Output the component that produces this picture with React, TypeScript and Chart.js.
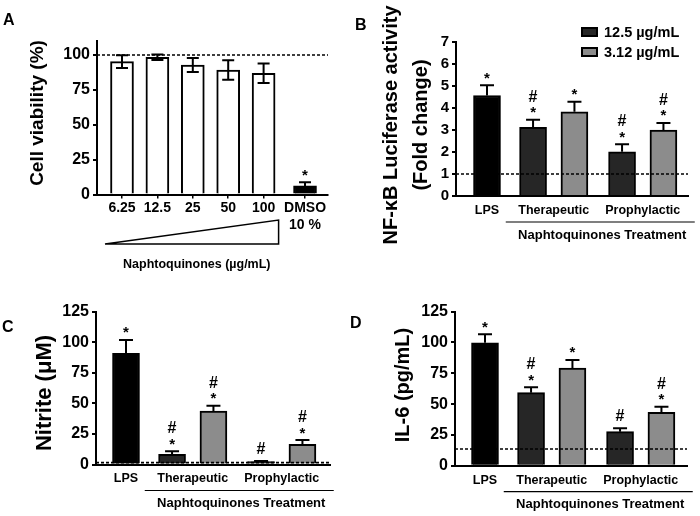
import React, { useEffect, useRef } from 'react';
import { Chart, registerables } from 'chart.js';

Chart.register(...registerables);

const FONT = '"Liberation Sans", Arial, Helvetica, sans-serif';
const INK = '#000000';
const DARK = '#262626';
const LIGHT = '#8c8c8c';
const WHITE = '#ffffff';

// ---------- Panel A: cell viability ----------
const doseLabels = ['6.25', '12.5', '25', '50', '100'];
const controlLabel = ['DMSO', '10 %'];
const viabilityMeans = [95.2, 98.3, 92.8, 89.2, 86.9, 6.2];
const viabilityErrors = [4.5, 2, 5, 7, 7, 2.5];
const viabilityMarks = ['', '', '', '', '', '*'];
const viabilityTicks = [0, 25, 50, 75, 100];
const viabilityReference = 100;
const viabilityAxisMax = 110;

// ---------- Shared groups ----------
const treatmentGroups = ['LPS', 'Therapeutic', 'Prophylactic'];
const concentrationNames = ['12.5 µg/mL', '3.12 µg/mL'];

// ---------- Panel B: NF-kB ----------
const nfkbLps = 4.57;
const nfkbLpsError = 0.46;
const nfkbLpsMark = '*';
const nfkbHigh = [3.12, 2.01];
const nfkbHighErrors = [0.35, 0.34];
const nfkbHighMarks = ['#*', '#*'];
const nfkbLow = [3.83, 3.0];
const nfkbLowErrors = [0.45, 0.32];
const nfkbLowMarks = ['*', '#*'];
const nfkbTicks = [0, 1, 2, 3, 4, 5, 6, 7];
const nfkbReference = 1;

// ---------- Panel C: nitrite ----------
const nitriteLps = 90.8;
const nitriteLpsError = 11;
const nitriteLpsMark = '*';
const nitriteHigh = [8.3, 2.3];
const nitriteHighErrors = [2.5, 0.6];
const nitriteHighMarks = ['#*', '#'];
const nitriteLow = [43.7, 16.5];
const nitriteLowErrors = [4.3, 3.5];
const nitriteLowMarks = ['#*', '#*'];
const nitriteTicks = [0, 25, 50, 75, 100, 125];
const nitriteReference = 1.5;

// ---------- Panel D: IL-6 ----------
const il6Lps = 99.8;
const il6LpsError = 6.8;
const il6LpsMark = '*';
const il6High = [59.3, 27.6];
const il6HighErrors = [4.3, 2.8];
const il6HighMarks = ['#*', '#'];
const il6Low = [79.3, 43.3];
const il6LowErrors = [6.5, 4.5];
const il6LowMarks = ['*', '#*'];
const il6Ticks = [0, 25, 50, 75, 100, 125];
const il6Reference = 13.5;

// ---------- layout constants ----------
const GROUP_X = [1, 2.5, 4.5];
const PAIR_OFFSET = 0.465;
const CONTROL_GAP = 1.17;

type Box = { x: number; y: number; w: number; h: number };
type Area = { left: number; top: number; right: number; bottom: number };

type Decor = {
  box: Box;
  errorsOnTop: boolean;
  cap: number;
  reference: number;
  letter: string;
  letterAt: [number, number];
  title: string[];
  titleXs: number[];
  titleY: number;
  titleSize: number;
  group?: { text: string };
  triangle?: { text: string };
  legend?: { x: number; y: number; indices: number[] };
};

function drawErrors(chart: any, cap: number, both: boolean) {
  const ctx = chart.ctx;
  const ys = chart.scales.y;
  ctx.save();
  ctx.strokeStyle = INK;
  ctx.lineWidth = 2;
  chart.data.datasets.forEach((ds: any, i: number) => {
    const meta = chart.getDatasetMeta(i);
    meta.data.forEach((el: any, j: number) => {
      const v = ds.data[j].y;
      const e = ds.errors[j];
      const top = ys.getPixelForValue(v + e);
      const bottom = both ? ys.getPixelForValue(v - e) : el.y;
      ctx.beginPath();
      ctx.moveTo(el.x, bottom);
      ctx.lineTo(el.x, top);
      ctx.moveTo(el.x - cap, top);
      ctx.lineTo(el.x + cap, top);
      if (both) {
        ctx.moveTo(el.x - cap, bottom);
        ctx.lineTo(el.x + cap, bottom);
      }
      ctx.stroke();
    });
  });
  ctx.restore();
}

function drawMarks(chart: any) {
  const ctx = chart.ctx;
  const ys = chart.scales.y;
  ctx.save();
  ctx.fillStyle = INK;
  ctx.textAlign = 'center';
  ctx.textBaseline = 'alphabetic';
  chart.data.datasets.forEach((ds: any, i: number) => {
    const meta = chart.getDatasetMeta(i);
    meta.data.forEach((el: any, j: number) => {
      const mark: string = ds.marks[j] || '';
      if (!mark) return;
      const top = ys.getPixelForValue(ds.data[j].y + ds.errors[j]);
      const star = mark.includes('*');
      if (star) {
        ctx.font = `bold 15px ${FONT}`;
        ctx.fillText('*', el.x, top - 2.5);
      }
      if (mark.includes('#')) {
        ctx.font = `bold 16px ${FONT}`;
        ctx.fillText('#', el.x, star ? top - 18 : top - 7);
      }
    });
  });
  ctx.restore();
}

function decorPlugin(d: Decor) {
  const ox = d.box.x;
  const oy = d.box.y;
  return {
    id: 'decor',
    beforeDatasetsDraw(chart: any) {
      if (!d.errorsOnTop) drawErrors(chart, d.cap, false);
    },
    afterDatasetsDraw(chart: any) {
      const { ctx, chartArea, scales } = chart;
      if (d.errorsOnTop) drawErrors(chart, d.cap, true);
      const yRef = scales.y.getPixelForValue(d.reference);
      ctx.save();
      ctx.setLineDash([3, 2]);
      ctx.lineWidth = 1.6;
      ctx.strokeStyle = INK;
      ctx.beginPath();
      ctx.moveTo(chartArea.left, yRef);
      ctx.lineTo(chartArea.right, yRef);
      ctx.stroke();
      ctx.restore();
      drawMarks(chart);
    },
    afterDraw(chart: any) {
      const { ctx, chartArea, scales } = chart;
      const xs = scales.x;
      ctx.save();
      ctx.fillStyle = INK;
      ctx.strokeStyle = INK;
      // panel letter
      ctx.font = `bold 16px ${FONT}`;
      ctx.textAlign = 'left';
      ctx.textBaseline = 'alphabetic';
      ctx.fillText(d.letter, d.letterAt[0] - ox, d.letterAt[1] - oy);
      // y title
      ctx.font = `bold ${d.titleSize}px ${FONT}`;
      ctx.textAlign = 'center';
      ctx.textBaseline = 'middle';
      d.title.forEach((line, i) => {
        ctx.save();
        ctx.translate(d.titleXs[i] - ox, d.titleY - oy);
        ctx.rotate(-Math.PI / 2);
        ctx.fillText(line, 0, 0);
        ctx.restore();
      });
      // group underline
      if (d.group) {
        const l = xs.getPixelForValue(GROUP_X[1]) - 48;
        const r = xs.getPixelForValue(GROUP_X[2]) + 52;
        const y = chartArea.bottom + 26;
        ctx.lineWidth = 1.2;
        ctx.beginPath();
        ctx.moveTo(l, y);
        ctx.lineTo(r, y);
        ctx.stroke();
        ctx.font = `bold 13px ${FONT}`;
        ctx.fillText(d.group.text, (l + r) / 2 + 2, y + 13);
      }
      // dose triangle
      if (d.triangle) {
        const l = xs.getPixelForValue(1) - 17;
        const r = xs.getPixelForValue(doseLabels.length) + 15;
        const bottom = 244 - oy;
        const top = 220 - oy;
        ctx.lineWidth = 1.5;
        ctx.beginPath();
        ctx.moveTo(l, bottom);
        ctx.lineTo(r, bottom);
        ctx.lineTo(r, top);
        ctx.closePath();
        ctx.stroke();
        ctx.font = `bold 12.5px ${FONT}`;
        ctx.fillText(d.triangle.text, (l + r) / 2 + 5, 265 - oy);
      }
      // legend
      if (d.legend) {
        const lg = d.legend;
        ctx.font = `bold 14.5px ${FONT}`;
        ctx.textAlign = 'left';
        lg.indices.forEach((di, k) => {
          const ds = chart.data.datasets[di];
          const x = lg.x - ox;
          const y = lg.y - oy + k * 20;
          ctx.fillStyle = ds.backgroundColor;
          ctx.fillRect(x, y, 17, 10);
          ctx.lineWidth = 2;
          ctx.strokeStyle = INK;
          ctx.strokeRect(x + 1, y + 1, 15, 8);
          ctx.fillStyle = INK;
          ctx.fillText(ds.label, x + 23, y + 5.5);
        });
      }
      ctx.restore();
    },
  };
}

function yAxis(box: Box, area: Area, max: number, ticks: number[], size: number) {
  return {
    type: 'linear',
    min: 0,
    max,
    afterBuildTicks: (s: any) => {
      s.ticks = ticks.map((v) => ({ value: v }));
    },
    afterFit: (s: any) => {
      s.width = area.left - box.x;
    },
    grid: { display: true, drawOnChartArea: false, drawTicks: true, tickLength: 4, lineWidth: 2, color: INK },
    border: { display: true, color: INK, width: 2 },
    ticks: { color: INK, padding: 3, font: { family: FONT, size, weight: 'bold' } },
  };
}

function baseOptions(box: Box, area: Area) {
  return {
    responsive: false,
    animation: false,
    devicePixelRatio: 1,
    layout: { padding: { left: 0, top: area.top - box.y, right: box.x + box.w - area.right, bottom: 0 } },
    plugins: { legend: { display: false }, tooltip: { enabled: false } },
  };
}

// ---------- Panel A config ----------
const BOX_A: Box = { x: 0, y: 0, w: 350, h: 275 };
const AREA_A: Area = { left: 97, top: 41, right: 328, bottom: 194.5 };

function viabilityConfig() {
  const box = BOX_A;
  const area = AREA_A;
  const positions = [...doseLabels.map((_, i) => i + 1), doseLabels.length + CONTROL_GAP];
  const labels: (string | string[])[] = [...doseLabels, controlLabel];
  const unit = 35.4;
  const anchor = 122;
  const xMin = 1 - (anchor - area.left) / unit;
  const xMax = 1 + (area.right - anchor) / unit;
  return {
    type: 'bar',
    data: {
      datasets: [
        {
          label: 'Cell viability (%)',
          data: positions.map((x, i) => ({ x, y: viabilityMeans[i] })),
          backgroundColor: positions.map((_, i) => (i < doseLabels.length ? WHITE : INK)),
          borderColor: INK,
          borderWidth: 2,
          borderSkipped: 'start',
          grouped: false,
          barThickness: 23,
          errors: viabilityErrors,
          marks: viabilityMarks,
        },
      ],
    },
    options: {
      ...baseOptions(box, area),
      scales: {
        x: {
          type: 'linear',
          min: xMin,
          max: xMax,
          offset: false,
          afterBuildTicks: (s: any) => {
            s.ticks = positions.map((v) => ({ value: v }));
          },
          afterFit: (s: any) => {
            s.height = box.y + box.h - area.bottom;
          },
          grid: { display: true, offset: false, drawOnChartArea: false, drawTicks: true, tickLength: 4, lineWidth: 1.5, color: INK },
          border: { display: true, color: INK, width: 2 },
          ticks: {
            color: INK,
            padding: 1,
            autoSkip: false,
            maxRotation: 0,
            font: { family: FONT, size: 14, weight: 'bold' },
            callback: (_v: any, i: number) => labels[i],
          },
        },
        y: yAxis(box, area, viabilityAxisMax, viabilityTicks, 16),
      },
    },
    plugins: [
      decorPlugin({
        box,
        errorsOnTop: true,
        cap: 6,
        reference: viabilityReference,
        letter: 'A',
        letterAt: [3, 25],
        title: ['Cell viability (%)'],
        titleXs: [38],
        titleY: 113,
        titleSize: 19,
        triangle: { text: 'Naphtoquinones (µg/mL)' },
      }),
    ],
  };
}

// ---------- Treatment panels ----------
type TreatmentSpec = {
  box: Box;
  area: Area;
  anchor: number;
  unit: number;
  yMax: number;
  yTicks: number[];
  tickSize: number;
  lps: number;
  lpsErr: number;
  lpsMark: string;
  high: number[];
  highErr: number[];
  highMarks: string[];
  low: number[];
  lowErr: number[];
  lowMarks: string[];
  reference: number;
  letter: string;
  letterAt: [number, number];
  title: string[];
  titleXs: number[];
  titleY: number;
  titleSize: number;
  legend?: { x: number; y: number; indices: number[] };
};

function treatmentConfig(s: TreatmentSpec) {
  const { box, area } = s;
  const xMin = GROUP_X[0] - (s.anchor - area.left) / s.unit;
  const xMax = GROUP_X[0] + (area.right - s.anchor) / s.unit;
  const common = { borderColor: INK, borderWidth: 2, borderSkipped: 'start', grouped: false, barThickness: 27 };
  const datasets = [
    {
      ...common,
      label: treatmentGroups[0],
      backgroundColor: INK,
      data: [{ x: GROUP_X[0], y: s.lps }],
      errors: [s.lpsErr],
      marks: [s.lpsMark],
    },
    {
      ...common,
      label: concentrationNames[0],
      backgroundColor: DARK,
      data: s.high.map((y, i) => ({ x: GROUP_X[i + 1] - PAIR_OFFSET, y })),
      errors: s.highErr,
      marks: s.highMarks,
    },
    {
      ...common,
      label: concentrationNames[1],
      backgroundColor: LIGHT,
      data: s.low.map((y, i) => ({ x: GROUP_X[i + 1] + PAIR_OFFSET, y })),
      errors: s.lowErr,
      marks: s.lowMarks,
    },
  ];
  return {
    type: 'bar',
    data: { datasets },
    options: {
      ...baseOptions(box, area),
      scales: {
        x: {
          type: 'linear',
          min: xMin,
          max: xMax,
          offset: false,
          afterBuildTicks: (sc: any) => {
            sc.ticks = GROUP_X.map((v) => ({ value: v }));
          },
          afterFit: (sc: any) => {
            sc.height = box.y + box.h - area.bottom;
          },
          grid: { display: false, offset: false, drawTicks: false },
          border: { display: true, color: INK, width: 2 },
          ticks: {
            color: INK,
            padding: 7,
            autoSkip: false,
            maxRotation: 0,
            font: { family: FONT, size: 12.5, weight: 'bold' },
            callback: (_v: any, i: number) => treatmentGroups[i],
          },
        },
        y: yAxis(box, area, s.yMax, s.yTicks, s.tickSize),
      },
    },
    plugins: [
      decorPlugin({
        box,
        errorsOnTop: false,
        cap: 7,
        reference: s.reference,
        letter: s.letter,
        letterAt: s.letterAt,
        title: s.title,
        titleXs: s.titleXs,
        titleY: s.titleY,
        titleSize: s.titleSize,
        group: { text: 'Naphtoquinones Treatment' },
        legend: s.legend,
      }),
    ],
  };
}

const BOX_B: Box = { x: 350, y: 0, w: 350, h: 270 };
const BOX_C: Box = { x: 0, y: 275, w: 350, h: 241 };
const BOX_D: Box = { x: 350, y: 275, w: 350, h: 241 };

const nfkbConfig = () =>
  treatmentConfig({
    box: BOX_B,
    area: { left: 456, top: 42, right: 688, bottom: 196 },
    anchor: 487,
    unit: 44.5,
    yMax: 7,
    yTicks: nfkbTicks,
    tickSize: 15,
    lps: nfkbLps,
    lpsErr: nfkbLpsError,
    lpsMark: nfkbLpsMark,
    high: nfkbHigh,
    highErr: nfkbHighErrors,
    highMarks: nfkbHighMarks,
    low: nfkbLow,
    lowErr: nfkbLowErrors,
    lowMarks: nfkbLowMarks,
    reference: nfkbReference,
    letter: 'B',
    letterAt: [355, 30],
    title: ['NF-κB Luciferase activity', '(Fold change)'],
    titleXs: [391, 421],
    titleY: 125,
    titleSize: 20,
    legend: { x: 581, y: 27, indices: [1, 2] },
  });

const nitriteConfig = () =>
  treatmentConfig({
    box: BOX_C,
    area: { left: 96, top: 311.5, right: 330, bottom: 464.5 },
    anchor: 126,
    unit: 44.5,
    yMax: 125,
    yTicks: nitriteTicks,
    tickSize: 16,
    lps: nitriteLps,
    lpsErr: nitriteLpsError,
    lpsMark: nitriteLpsMark,
    high: nitriteHigh,
    highErr: nitriteHighErrors,
    highMarks: nitriteHighMarks,
    low: nitriteLow,
    lowErr: nitriteLowErrors,
    lowMarks: nitriteLowMarks,
    reference: nitriteReference,
    letter: 'C',
    letterAt: [2, 332],
    title: ['Nitrite (μM)'],
    titleXs: [45],
    titleY: 393,
    titleSize: 22,
  });

const il6Config = () =>
  treatmentConfig({
    box: BOX_D,
    area: { left: 455, top: 311.7, right: 687, bottom: 465.7 },
    anchor: 485,
    unit: 44.5,
    yMax: 125,
    yTicks: il6Ticks,
    tickSize: 16,
    lps: il6Lps,
    lpsErr: il6LpsError,
    lpsMark: il6LpsMark,
    high: il6High,
    highErr: il6HighErrors,
    highMarks: il6HighMarks,
    low: il6Low,
    lowErr: il6LowErrors,
    lowMarks: il6LowMarks,
    reference: il6Reference,
    letter: 'D',
    letterAt: [350, 328],
    title: ['IL-6 (pg/mL)'],
    titleXs: [403],
    titleY: 385,
    titleSize: 20,
  });

function ChartCanvas({ box, build }: { box: Box; build: () => any }) {
  const ref = useRef<HTMLCanvasElement | null>(null);
  useEffect(() => {
    const chart = new Chart(ref.current as HTMLCanvasElement, build());
    return () => chart.destroy();
  }, []);
  return (
    <canvas
      ref={ref}
      width={box.w}
      height={box.h}
      style={{ position: 'absolute', left: box.x, top: box.y, width: box.w, height: box.h }}
    />
  );
}

export default function App() {
  return (
    <div style={{ position: 'absolute', left: 0, top: 0, width: 700, height: 516, background: '#fff', overflow: 'hidden' }}>
      <ChartCanvas box={BOX_A} build={viabilityConfig} />
      <ChartCanvas box={BOX_B} build={nfkbConfig} />
      <ChartCanvas box={BOX_C} build={nitriteConfig} />
      <ChartCanvas box={BOX_D} build={il6Config} />
    </div>
  );
}
